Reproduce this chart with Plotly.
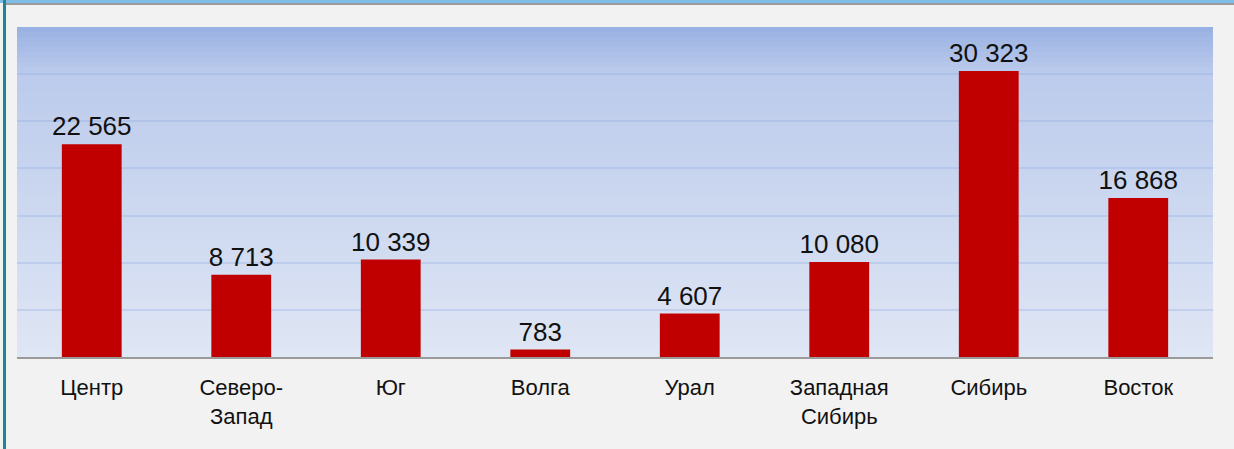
import plotly.graph_objects as go

categories = ["Центр", "Северо-<br>Запад", "Юг", "Волга", "Урал", "Западная<br>Сибирь", "Сибирь", "Восток"]
values = [22565, 8713, 10339, 783, 4607, 10080, 30323, 16868]
y_ticks = [0, 5000, 10000, 15000, 20000, 25000, 30000, 35000]

W, H = 1234, 449
L, R, T, B = 17, 21, 27, 92
ph = H - T - B


def lerp(c1, c2, t):
    return tuple(round(a + (b - a) * t) for a, b in zip(c1, c2))


def hex2rgb(h):
    h = h.lstrip("#")
    return tuple(int(h[i:i + 2], 16) for i in (0, 2, 4))


stops = [(0.0, hex2rgb("#98b1e2")), (47 / ph, hex2rgb("#bccbec")), (1.0, hex2rgb("#dfe6f4"))]


def grad(t):
    for (t0, c0), (t1, c1) in zip(stops, stops[1:]):
        if t0 <= t <= t1:
            return lerp(c0, c1, (t - t0) / (t1 - t0))
    return stops[-1][1]


shapes = []
n = 66
for i in range(n):
    t = (i + 0.5) / n
    c = grad(t)
    shapes.append(dict(type="rect", xref="paper", yref="paper", layer="below",
                       x0=0, x1=1, y0=max(0, 1 - (i + 1) / n - 0.006), y1=1 - i / n,
                       line=dict(width=0), fillcolor="rgb(%d,%d,%d)" % c))


def py(y):
    return (H - B - y) / ph


def px(x):
    return (x - L) / (W - L - R)


# top blue strip and grey line
shapes.append(dict(type="rect", xref="paper", yref="paper", x0=px(-2), x1=px(W + 2),
                   y0=py(3), y1=py(-2), line=dict(width=0), fillcolor="#7fbde6"))
shapes.append(dict(type="rect", xref="paper", yref="paper", x0=px(5), x1=px(W + 2),
                   y0=py(5), y1=py(3), line=dict(width=0), fillcolor="#9a9a9a"))
# left teal border
shapes.append(dict(type="rect", xref="paper", yref="paper", x0=px(3), x1=px(6),
                   y0=py(H + 2), y1=py(-2), line=dict(width=0), fillcolor="#1e8496"))

fig = go.Figure(go.Bar(
    x=categories, y=values,
    marker=dict(color="#c00000", line=dict(width=0)),
    texttemplate="%{y:,}", textposition="outside", constraintext="none",
    textfont=dict(size=26, color="#111111"),
    cliponaxis=False, width=0.4,
))

fig.update_layout(
    width=W, height=H,
    margin=dict(l=L, r=R, t=T, b=B, pad=0),
    paper_bgcolor="#f2f2f2",
    plot_bgcolor="rgba(0,0,0,0)",
    separators=", ",
    font=dict(family="Liberation Sans, Arial, sans-serif", color="#111111"),
    showlegend=False,
    shapes=shapes,
    xaxis=dict(showline=True, linecolor="#9a9a9a", linewidth=2, showgrid=False,
               tickfont=dict(size=22, color="#111111"), ticks="outside", ticklen=10,
               tickcolor="rgba(0,0,0,0)"),
    yaxis=dict(range=[0, 35000], tickvals=y_ticks, showticklabels=False,
               showgrid=True, gridcolor="rgba(140,168,222,0.3)", gridwidth=2,
               zeroline=False),
)

fig.write_html("out.html", config={"displayModeBar": False},
               post_script="document.body.style.margin='0';document.body.style.overflow='hidden';")
